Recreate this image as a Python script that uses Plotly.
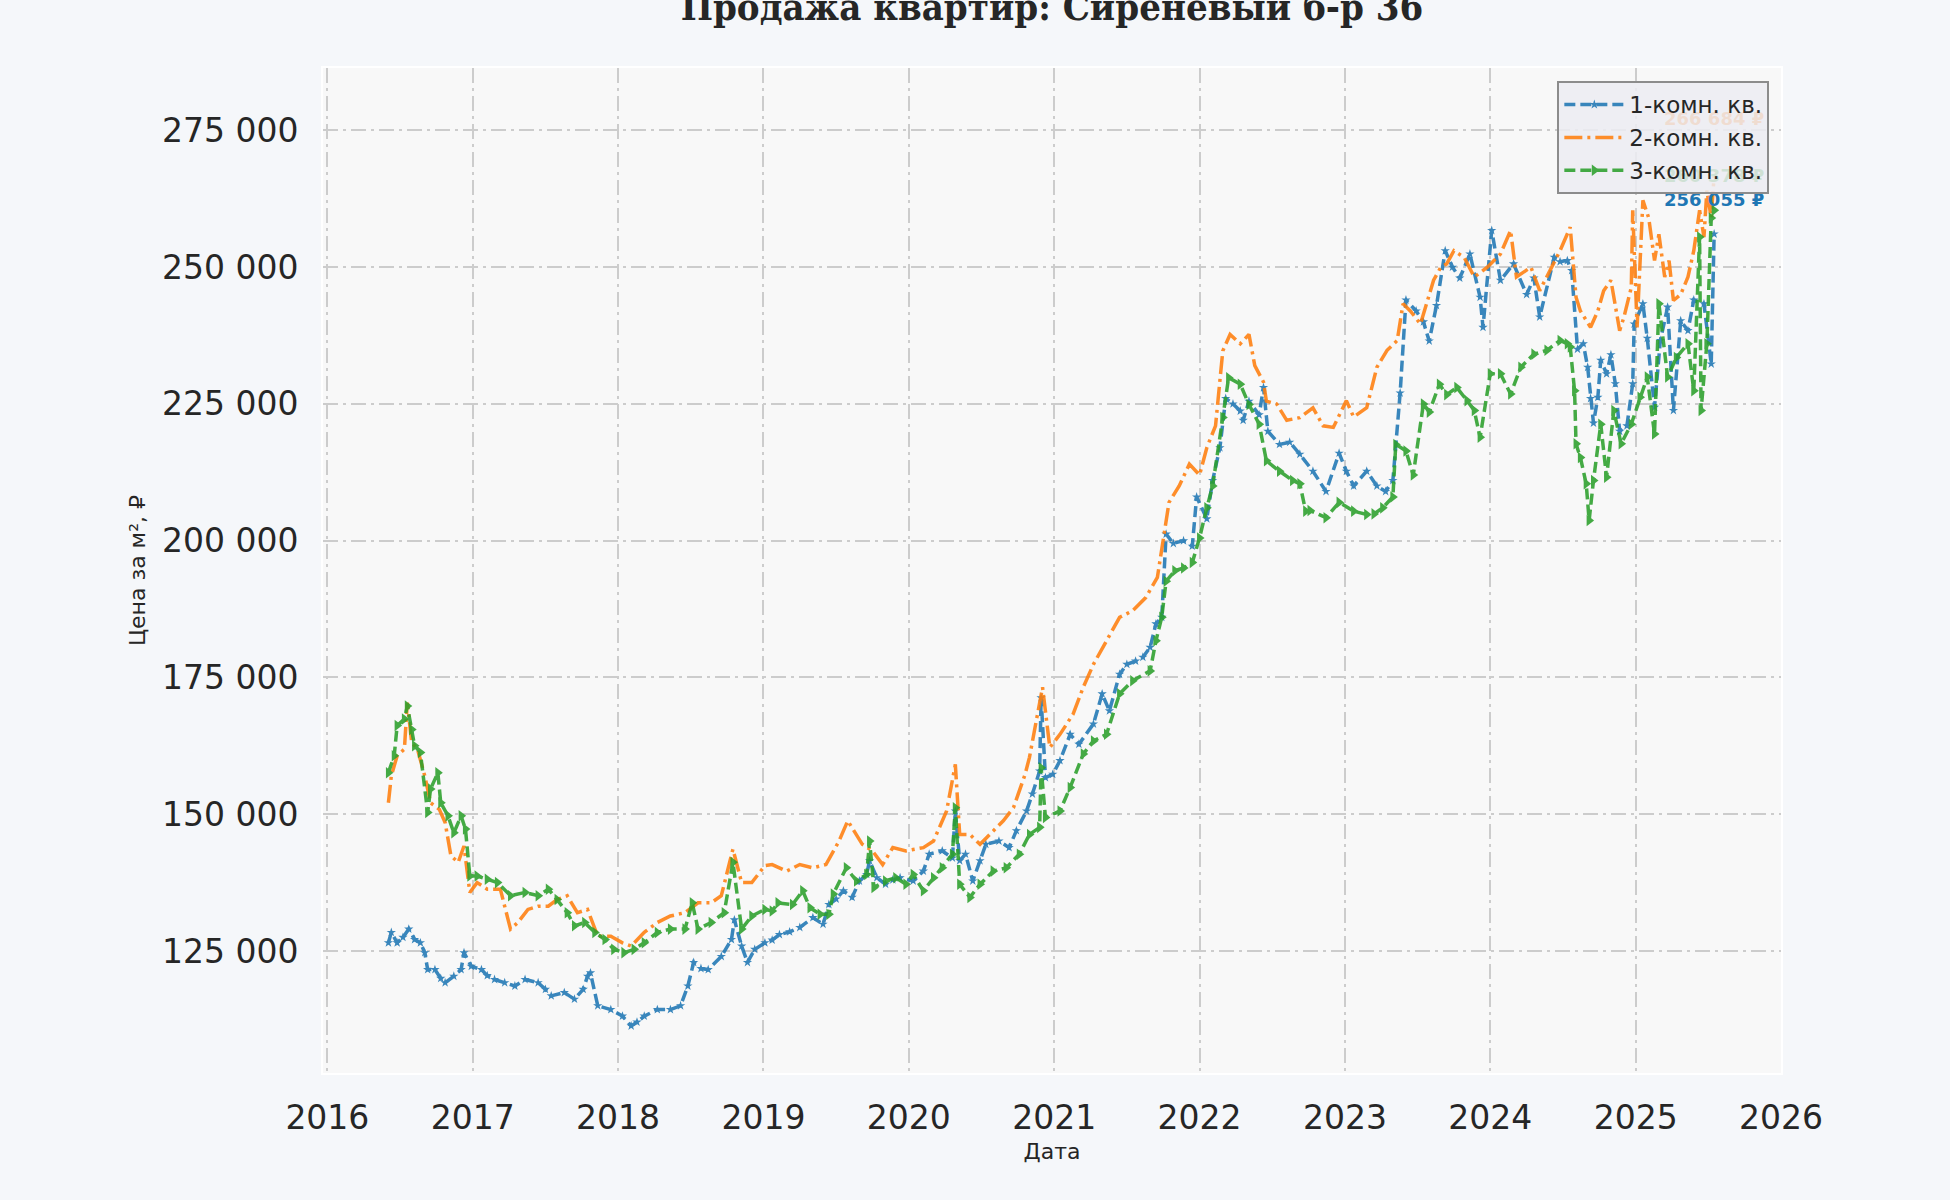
import plotly.graph_objects as go

TITLE = "Продажа квартир: Сиреневый б-р 36"
SERIES_NAMES = ["1-комн. кв.", "2-комн. кв.", "3-комн. кв."]
COLORS = ["#1f77b4", "#ff7f0e", "#2ca02c"]

# 1-комн. кв. (decimal year, price per m2)
x1 = [2016.42, 2016.44, 2016.48, 2016.52, 2016.56, 2016.60, 2016.64, 2016.67, 2016.69, 2016.74,
      2016.78, 2016.81, 2016.87, 2016.92, 2016.94, 2016.99, 2017.06, 2017.10, 2017.15, 2017.22,
      2017.29, 2017.36, 2017.45, 2017.50, 2017.54, 2017.63, 2017.70, 2017.76, 2017.79, 2017.81,
      2017.86, 2017.95, 2018.03, 2018.09, 2018.13, 2018.18, 2018.27, 2018.36, 2018.43, 2018.48,
      2018.52, 2018.57, 2018.62, 2018.71, 2018.78, 2018.80, 2018.85, 2018.89, 2018.94, 2019.01,
      2019.06, 2019.11, 2019.18, 2019.25, 2019.34, 2019.41, 2019.45, 2019.50, 2019.55, 2019.61,
      2019.66, 2019.71, 2019.73, 2019.78, 2019.84, 2019.89, 2019.94, 2020.03, 2020.10, 2020.14,
      2020.23, 2020.30, 2020.32, 2020.35, 2020.39, 2020.44, 2020.49, 2020.53, 2020.62, 2020.69,
      2020.74, 2020.81, 2020.85, 2020.90, 2020.91, 2020.94, 2020.99, 2021.04, 2021.11, 2021.17,
      2021.27, 2021.33, 2021.38, 2021.45, 2021.50, 2021.56, 2021.61, 2021.66, 2021.70, 2021.74,
      2021.77, 2021.82, 2021.89, 2021.95, 2021.98, 2022.05, 2022.09, 2022.14, 2022.18, 2022.23,
      2022.28, 2022.30, 2022.34, 2022.41, 2022.44, 2022.47, 2022.55, 2022.62, 2022.69, 2022.78,
      2022.87, 2022.96, 2023.01, 2023.06, 2023.15, 2023.22, 2023.28, 2023.33, 2023.38, 2023.42,
      2023.49, 2023.54, 2023.58, 2023.63, 2023.69, 2023.74, 2023.79, 2023.86, 2023.93, 2023.95,
      2024.01, 2024.07, 2024.16, 2024.25, 2024.30, 2024.34, 2024.44, 2024.48, 2024.53, 2024.56,
      2024.60, 2024.64, 2024.67, 2024.69, 2024.71, 2024.74, 2024.76, 2024.80, 2024.83, 2024.86,
      2024.89, 2024.94, 2024.98, 2024.99, 2025.05, 2025.08, 2025.13, 2025.17, 2025.22, 2025.26,
      2025.31, 2025.36, 2025.40, 2025.47, 2025.52, 2025.54]
y1 = [126500, 128400, 126500, 127500, 129000, 127100, 126500, 124700, 121600, 121600,
      120000, 119200, 120400, 121600, 124700, 122200, 121600, 120500, 119800, 119200,
      118600, 119800, 119200, 118000, 116800, 117400, 116200, 118000, 120400, 121000,
      115000, 114300, 113100, 111300, 112000, 113100, 114300, 114300, 115000, 118600,
      122900, 121800, 121600, 124000, 127100, 130700, 125900, 122900, 125300, 126500,
      127000, 128000, 128500, 129300, 131100, 129900, 133500, 134500, 136000, 134800,
      137800, 139000, 141500, 138400, 137200, 138000, 138400, 137800, 139600, 142700,
      143300, 142000, 150600, 141500, 142700, 137800, 141500, 144500, 145100, 143900,
      147000, 150600, 153700, 157900, 171300, 156700, 157300, 159800, 164600, 162800,
      166500, 172000, 168900, 175600, 177400, 178000, 178700, 180500, 184800, 186000,
      201200, 199500, 200000, 199000, 208000, 204000, 211000, 217000, 226000, 225000,
      223700, 222000, 225500, 223000, 228000, 220000, 217600, 218000, 215800, 212700,
      209000, 216000, 212700, 210000, 212700, 210000, 209000, 211000, 227000, 244000,
      242000, 240000, 236500, 243000, 253000, 250000, 248000, 252400, 244500, 239000,
      256700, 247600, 250600, 245000, 248000, 240900, 251800, 251000, 251200, 249400,
      235000, 236000, 231700, 226000, 221500, 226200, 233000, 230500, 234000, 228700,
      220000, 221000, 228700, 239600, 243300, 237000, 224400, 236600, 242700, 223800,
      240200, 238400, 244000, 243300, 232300, 256055]

# 2-комн. кв.
x2 = [2016.42, 2016.44, 2016.48, 2016.53, 2016.55, 2016.58, 2016.62, 2016.67, 2016.71, 2016.77,
      2016.81, 2016.85, 2016.90, 2016.94, 2016.98, 2017.03, 2017.10, 2017.19, 2017.26, 2017.31,
      2017.38, 2017.45, 2017.52, 2017.58, 2017.65, 2017.72, 2017.79, 2017.86, 2017.95, 2018.03,
      2018.09, 2018.18, 2018.27, 2018.36, 2018.46, 2018.55, 2018.64, 2018.71, 2018.79, 2018.85,
      2018.92, 2019.01, 2019.06, 2019.16, 2019.25, 2019.34, 2019.43, 2019.52, 2019.58, 2019.64,
      2019.68, 2019.75, 2019.82, 2019.89, 2019.98, 2020.10, 2020.17, 2020.26, 2020.32, 2020.35,
      2020.42, 2020.49, 2020.58, 2020.65, 2020.72, 2020.80, 2020.83, 2020.92, 2020.97, 2021.04,
      2021.13, 2021.20, 2021.27, 2021.36, 2021.45, 2021.54, 2021.63, 2021.71, 2021.75, 2021.79,
      2021.86, 2021.93, 2022.00, 2022.05, 2022.11, 2022.16, 2022.21, 2022.28, 2022.34, 2022.38,
      2022.44, 2022.46, 2022.53, 2022.60, 2022.69, 2022.78, 2022.85, 2022.92, 2023.01, 2023.06,
      2023.15, 2023.22, 2023.29, 2023.36, 2023.40, 2023.45, 2023.52, 2023.61, 2023.66, 2023.70,
      2023.75, 2023.82, 2023.89, 2023.98, 2024.07, 2024.14, 2024.18, 2024.28, 2024.34, 2024.41,
      2024.48, 2024.55, 2024.59, 2024.62, 2024.69, 2024.74, 2024.78, 2024.83, 2024.89, 2024.92,
      2024.97, 2024.98, 2025.01, 2025.05, 2025.09, 2025.13, 2025.16, 2025.20, 2025.23, 2025.26,
      2025.31, 2025.36, 2025.40, 2025.44, 2025.47, 2025.49, 2025.52, 2025.54]
y2 = [152100, 157000, 160700, 161900, 170400, 163100, 161900, 157000, 152100, 150900,
      148500, 142400, 141200, 144200, 135700, 137500, 136300, 136300, 129000, 130200,
      132600, 133200, 133200, 134400, 135100, 132000, 132600, 127700, 127700, 126500,
      125900, 128400, 130200, 131400, 132000, 133800, 133800, 135100, 143600, 137500,
      137500, 140600, 140800, 139600, 140800, 140200, 140800, 145100, 148800, 146300,
      144500, 143300, 140800, 143900, 143300, 143900, 145100, 150600, 159100, 146300,
      146300, 144500, 146900, 148800, 151200, 157300, 160400, 173200, 162200, 164600,
      168300, 173200, 177400, 181700, 186000, 187200, 189600, 193300, 200000, 207000,
      210000, 214000, 212000, 217000, 221000, 234700, 237700, 236000, 237700, 232000,
      229000, 225500, 225000, 222000, 222500, 224300, 221000, 220700, 225600, 222600,
      224300, 231700, 234800, 236600, 243300, 242000, 239600, 247600, 250000, 250600,
      253000, 251800, 248200, 250000, 252400, 256700, 248200, 250000, 245700, 249400,
      253000, 257300, 244500, 242000, 239000, 242000, 245700, 247600, 238400, 240900,
      246300, 260400, 239000, 262200, 259000, 251200, 256000, 248200, 251200, 243900,
      245000, 248200, 253000, 260400, 255500, 264000, 259000, 266684]

# 3-комн. кв.
x3 = [2016.42, 2016.46, 2016.48, 2016.53, 2016.55, 2016.58, 2016.60, 2016.64, 2016.69, 2016.71,
      2016.76, 2016.78, 2016.83, 2016.87, 2016.92, 2016.95, 2016.98, 2017.03, 2017.10, 2017.17,
      2017.26, 2017.36, 2017.45, 2017.52, 2017.58, 2017.65, 2017.70, 2017.77, 2017.84, 2017.91,
      2017.97, 2018.04, 2018.11, 2018.18, 2018.27, 2018.36, 2018.46, 2018.51, 2018.55, 2018.64,
      2018.73, 2018.79, 2018.85, 2018.92, 2019.01, 2019.06, 2019.10, 2019.20, 2019.27, 2019.32,
      2019.39, 2019.45, 2019.48, 2019.57, 2019.64, 2019.71, 2019.73, 2019.76, 2019.84, 2019.91,
      2019.98, 2020.03, 2020.10, 2020.17, 2020.23, 2020.30, 2020.32, 2020.35, 2020.42, 2020.49,
      2020.58, 2020.67, 2020.76, 2020.83, 2020.90, 2020.91, 2020.94, 2021.04, 2021.11, 2021.20,
      2021.27, 2021.36, 2021.45, 2021.54, 2021.66, 2021.70, 2021.74, 2021.77, 2021.83, 2021.89,
      2021.95, 2022.00, 2022.05, 2022.09, 2022.16, 2022.20, 2022.28, 2022.34, 2022.41, 2022.46,
      2022.55, 2022.64, 2022.69, 2022.73, 2022.76, 2022.87, 2022.96, 2023.06, 2023.15, 2023.20,
      2023.26, 2023.33, 2023.35, 2023.42, 2023.47, 2023.54, 2023.58, 2023.65, 2023.70, 2023.77,
      2023.84, 2023.89, 2023.93, 2024.00, 2024.07, 2024.14, 2024.21, 2024.30, 2024.39, 2024.48,
      2024.53, 2024.55, 2024.58, 2024.59, 2024.62, 2024.66, 2024.68, 2024.71, 2024.76, 2024.80,
      2024.85, 2024.90, 2024.97, 2025.03, 2025.08, 2025.13, 2025.16, 2025.22, 2025.28, 2025.36,
      2025.40, 2025.44, 2025.45, 2025.49, 2025.52, 2025.54]
y3 = [157600, 160700, 166200, 167400, 169800, 165500, 162500, 161300, 150300, 154600,
      157600, 152100, 149700, 146600, 149700, 147300, 138700, 138700, 138100, 137500,
      135100, 135700, 135100, 136300, 134400, 132000, 129600, 130200, 128400, 127100,
      125300, 124700, 125300, 126500, 128400, 129000, 129000, 133800, 129000, 130200,
      132000, 141200, 129000, 131400, 132600, 132300, 133800, 133500, 136000, 132900,
      131700, 131700, 135400, 140200, 137800, 139000, 145100, 136600, 137800, 138400,
      137200, 139000, 136000, 138400, 140200, 142700, 151200, 137200, 134800, 137200,
      139600, 140200, 142700, 146300, 147600, 158500, 149400, 150600, 154900, 161000,
      163400, 164600, 172000, 174400, 176200, 181700, 186000, 192600, 194500, 195000,
      196000, 200500, 206000, 210000, 222500, 229800, 228600, 224900, 221300, 214600,
      212700, 211000, 210400, 205400, 205500, 204200, 207000, 205400, 204800, 204900,
      206000, 208000, 217600, 216400, 212000, 225000, 223500, 228600, 226700, 228000,
      225600, 223800, 218900, 230500, 230500, 226800, 231700, 234100, 234800, 236600,
      236000, 235400, 227400, 217700, 215200, 210400, 203700, 211000, 221300, 211600,
      223800, 217700, 221300, 226200, 229900, 219500, 243300, 229900, 233500, 236000,
      227400, 255500, 223800, 236000, 259000, 260378]

END_LABELS = ["256 055 ₽", "266 684 ₽", "260 378 ₽"]

X_TICKS = [2016, 2017, 2018, 2019, 2020, 2021, 2022, 2023, 2024, 2025, 2026]
Y_TICKS = [125000, 150000, 175000, 200000, 225000, 250000, 275000]

fig = go.Figure()

styles = [
    dict(dash="11px,5px", marker=dict(symbol="star", size=7), mode="lines+markers"),
    dict(dash="18px,5px,3px,5px", marker=None, mode="lines"),
    dict(dash="11px,5px", marker=dict(symbol="triangle-right", size=10), mode="lines+markers"),
]
data = [(x1, y1), (x2, y2), (x3, y3)]
for (xs, ys), name, color, st in zip(data, SERIES_NAMES, COLORS, styles):
    kw = dict(x=xs, y=ys, name=name, mode=st["mode"],
              line=dict(color=color, width=3.5, dash=st["dash"]),
              opacity=0.88)
    if st["marker"] is not None:
        kw["marker"] = dict(color=color, line=dict(width=0), **st["marker"])
    fig.add_trace(go.Scatter(**kw))

# end-value labels drawn as text traces (so the legend box sits on top of them);
# blank lines below the text lift it above the last point
label_pad = ["<br>&nbsp;", "<br>&nbsp;<br>&nbsp;", "<br>&nbsp;"]
for (xs, ys), lab, color, pad in zip(data, END_LABELS, COLORS, label_pad):
    fig.add_trace(go.Scatter(x=[xs[-1]], y=[ys[-1]], mode="text", text=[lab + pad],
                             textposition="top center", showlegend=False, hoverinfo="skip",
                             cliponaxis=False,
                             textfont=dict(family="DejaVu Sans", size=18, color=color,
                                           weight="bold")))

grid = dict(showgrid=True, gridcolor="#cccccc", gridwidth=2, griddash="15px,5px,3px,5px",
            zeroline=False, showline=True, linecolor="white", linewidth=2, mirror=True,
            ticks="", tickfont=dict(family="DejaVu Sans", size=33, color="#262626"))

fig.update_layout(
    width=1950, height=1200,
    paper_bgcolor="#f5f7fa", plot_bgcolor="#f8f8f8",
    margin=dict(l=323, r=169, t=68, b=127),
    separators=". ",
    title=dict(text=TITLE, x=(323 + 1781) / 2 / 1950, xanchor="center",
               y=1 - 19.5 / 1200, yanchor="bottom", yref="container",
               font=dict(family="DejaVu Serif Condensed, DejaVu Serif", size=38,
                         color="#262626", weight="bold")),
    xaxis=dict(title=dict(text="Дата", font=dict(family="DejaVu Sans", size=22, color="#262626"),
                          standoff=8),
               range=[2015.97, 2026.0], tickvals=X_TICKS, tickformat="d", ticklabelstandoff=14,
               **grid),
    yaxis=dict(title=dict(text="Цена за м², ₽", font=dict(family="DejaVu Sans", size=22, color="#262626"),
                          standoff=10),
               range=[102700, 286400], tickvals=Y_TICKS, tickformat=",d", ticklabelstandoff=16,
               **grid),
    legend=dict(x=0.992, y=0.987, xanchor="right", yanchor="top",
                bgcolor="rgba(236,236,242,0.85)", bordercolor="#8c8c8c", borderwidth=2,
                font=dict(family="DejaVu Sans", size=23, color="#262626"),
                itemwidth=60, tracegroupgap=0),
    showlegend=True,
)

fig.write_html("out.html", config={"displayModeBar": False},
               post_script="document.body.style.margin='0';")
